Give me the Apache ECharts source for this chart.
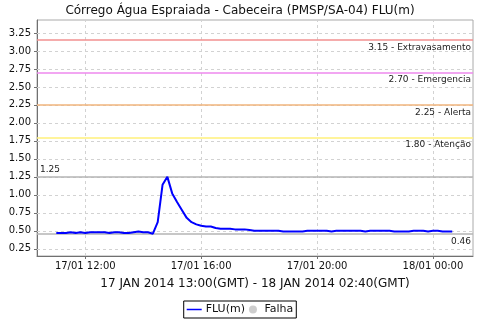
<!DOCTYPE html>
<html>
<head>
<meta charset="utf-8">
<script src="https://cdn.jsdelivr.net/npm/echarts@6/dist/echarts.min.js"></script>
<style>html,body{margin:0;padding:0;background:#fff}#c{width:480px;height:320px}</style>
</head>
<body>
<div id="c"></div>
<script>
const titleText = 'Córrego Água Espraiada - Cabeceira (PMSP/SA-04) FLU(m)';
const xAxisName = '17 JAN 2014 13:00(GMT) - 18 JAN 2014 02:40(GMT)';
const times = [
'2014-01-17 11:00','2014-01-17 11:10','2014-01-17 11:20','2014-01-17 11:30','2014-01-17 11:40','2014-01-17 11:50',
'2014-01-17 12:00','2014-01-17 12:10','2014-01-17 12:20','2014-01-17 12:30','2014-01-17 12:40','2014-01-17 12:50',
'2014-01-17 13:00','2014-01-17 13:10','2014-01-17 13:20','2014-01-17 13:30','2014-01-17 13:40','2014-01-17 13:50',
'2014-01-17 14:00','2014-01-17 14:10','2014-01-17 14:20','2014-01-17 14:30','2014-01-17 14:40','2014-01-17 14:50',
'2014-01-17 15:00','2014-01-17 15:10','2014-01-17 15:20','2014-01-17 15:30','2014-01-17 15:40','2014-01-17 15:50',
'2014-01-17 16:00','2014-01-17 16:10','2014-01-17 16:20','2014-01-17 16:30','2014-01-17 16:40','2014-01-17 16:50',
'2014-01-17 17:00','2014-01-17 17:10','2014-01-17 17:20','2014-01-17 17:30','2014-01-17 17:40','2014-01-17 17:50',
'2014-01-17 18:00','2014-01-17 18:10','2014-01-17 18:20','2014-01-17 18:30','2014-01-17 18:40','2014-01-17 18:50',
'2014-01-17 19:00','2014-01-17 19:10','2014-01-17 19:20','2014-01-17 19:30','2014-01-17 19:40','2014-01-17 19:50',
'2014-01-17 20:00','2014-01-17 20:10','2014-01-17 20:20','2014-01-17 20:30','2014-01-17 20:40','2014-01-17 20:50',
'2014-01-17 21:00','2014-01-17 21:10','2014-01-17 21:20','2014-01-17 21:30','2014-01-17 21:40','2014-01-17 21:50',
'2014-01-17 22:00','2014-01-17 22:10','2014-01-17 22:20','2014-01-17 22:30','2014-01-17 22:40','2014-01-17 22:50',
'2014-01-17 23:00','2014-01-17 23:10','2014-01-17 23:20','2014-01-17 23:30','2014-01-17 23:40','2014-01-17 23:50',
'2014-01-18 00:00','2014-01-18 00:10','2014-01-18 00:20','2014-01-18 00:30','2014-01-18 00:40'
];
const fluValues = [
0.47,0.47,0.47,0.48,0.47,0.48,
0.47,0.48,0.48,0.48,0.48,0.47,
0.48,0.48,0.47,0.47,0.48,0.49,
0.48,0.48,0.46,0.62,1.14,1.25,
1.02,0.90,0.79,0.68,0.62,0.59,
0.57,0.56,0.56,0.54,0.53,0.53,
0.53,0.52,0.52,0.52,0.51,0.50,
0.50,0.50,0.50,0.50,0.50,0.49,
0.49,0.49,0.49,0.49,0.50,0.50,
0.50,0.50,0.50,0.49,0.50,0.50,
0.50,0.50,0.50,0.50,0.49,0.50,
0.50,0.50,0.50,0.50,0.49,0.49,
0.49,0.49,0.50,0.50,0.50,0.49,
0.50,0.50,0.49,0.49,0.49
];
const thresholdValues = [3.15, 2.70, 2.25, 1.80];
const thresholdNames = ['Extravasamento', 'Emergencia', 'Alerta', 'Atenção'];
const thresholdColors = ['#f29090', '#ee88ee', '#f0b47c', '#fff07a'];
const maxValue = 1.25;
const minValue = 0.46;
const yTicks = [0.25,0.50,0.75,1.00,1.25,1.50,1.75,2.00,2.25,2.50,2.75,3.00,3.25];
const xTickTimes = ['2014-01-17 12:00','2014-01-17 16:00','2014-01-17 20:00','2014-01-18 00:00'];
const xMin = '2014-01-17 10:20';
const xMax = '2014-01-18 01:23';
const yMin = 0.15, yMax = 3.43;

function parseT(s){ return echarts.time.parse(s).getTime(); }
function pad(n){ return (n<10?'0':'')+n; }
function fmtT(v){ const d=new Date(v); return pad(d.getDate())+'/'+pad(d.getMonth()+1)+' '+pad(d.getHours())+':'+pad(d.getMinutes()); }

const FONT = 'DejaVu Sans';
const chart = echarts.init(document.getElementById('c'), null, {renderer:'canvas'});
const lineData = times.map((t,i)=>[parseT(t), fluValues[i]]);
const xTickVals = xTickTimes.map(parseT);
const GRID = {color:'#d2d2d2', type:[3,3], width:1};

const markData = thresholdValues.map((v,i)=>({
  yAxis: v,
  lineStyle: {color: thresholdColors[i], width: 1.5, type: 'solid'},
  label: {show:true, position:'insideEndBottom', formatter: v.toFixed(2)+' - '+thresholdNames[i],
          color:'#222', fontFamily: FONT, fontSize: 9, distance: [2, 3]}
}));
markData.push({yAxis: maxValue, lineStyle:{color:'#b4b4b4', width:1.5, type:'solid'},
  label:{show:true, position:'insideStartTop', formatter: maxValue.toFixed(2), color:'#222', fontFamily:FONT, fontSize:9, distance:[3,3]}});
markData.push({yAxis: minValue, lineStyle:{color:'#b4b4b4', width:1.5, type:'solid'},
  label:{show:true, position:'insideEndBottom', formatter: minValue.toFixed(2), color:'#222', fontFamily:FONT, fontSize:9, distance:[2,3]}});

chart.setOption({
  animation: false,
  backgroundColor: '#fff',
  title: {text: titleText, left: 'center', top: 0, textStyle:{fontFamily:FONT, fontSize:12, fontWeight:'normal', color:'#111'}},
  grid: {left: 37, right: 7, top: 20, bottom: 64, show: true, borderColor: '#aaaaaa', borderWidth: 1, backgroundColor:'#fff'},
  legend: {
    bottom: 2, left: 'center', orient:'horizontal',
    data: [{name:'FLU(m)', icon:'path://M0,0h20v2h-20z'}, {name:'Falha', icon:'circle'}],
    borderColor:'#000', borderWidth:1, padding:[3,3], itemGap: 4, itemWidth: 15, itemHeight: 8,
    textStyle:{fontFamily:FONT, fontSize:11, color:'#111', padding:[0,0,0,-1]}
  },
  xAxis: {
    type:'value', min: parseT(xMin), max: parseT(xMax),
    name: xAxisName, nameLocation:'middle', nameGap: 22,
    nameTextStyle:{fontFamily:FONT, fontSize:12, color:'#111'},
    axisLine:{show:true, lineStyle:{color:'#707070', width:1}},
    axisTick:{show:true, length:3, customValues: xTickVals, lineStyle:{color:'#707070'}},
    axisLabel:{customValues: xTickVals, formatter: fmtT, fontFamily:FONT, fontSize:10, color:'#111', margin:5},
    splitLine:{show:false}
  },
  yAxis: {
    type:'value', min: yMin, max: yMax,
    axisLine:{show:true, lineStyle:{color:'#707070', width:1}},
    axisTick:{show:true, length:3, customValues: yTicks, lineStyle:{color:'#707070'}},
    axisLabel:{customValues: yTicks, formatter: v=>v.toFixed(2), fontFamily:FONT, fontSize:10, color:'#111', margin:6},
    splitLine:{show:false}
  },
  series: [
    {name:'grid', type:'line', data: [], silent:true, z:1,
     markLine:{silent:true, symbol:['none','none'], animation:false, label:{show:false}, lineStyle:GRID,
       data: yTicks.map(v=>({yAxis:v})).concat(xTickVals.map(v=>({xAxis:v})))}},
    {name:'FLU(m)', type:'line', data: lineData, symbol:'none', showSymbol:false,
     lineStyle:{color:'#0000ff', width:2}, itemStyle:{color:'#0000ff'}, z:5,
     markLine:{silent:true, symbol:['none','none'], data: markData, animation:false}},
    {name:'Falha', type:'scatter', data: [], itemStyle:{color:'#c0c0c0'}}
  ]
});
</script>
</body>
</html>
